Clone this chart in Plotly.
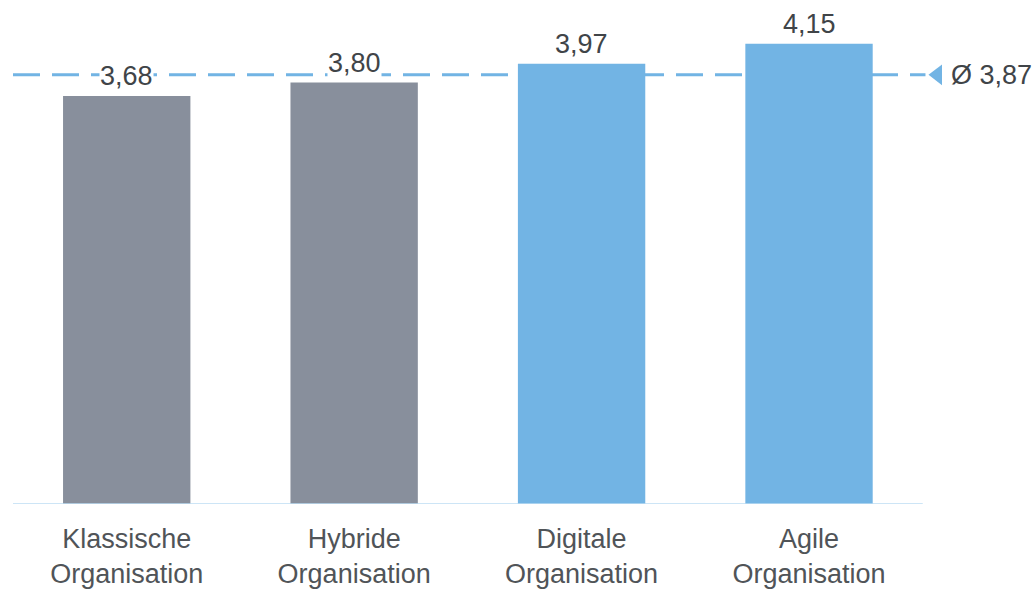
import plotly.graph_objects as go

categories = ["Klassische<br>Organisation", "Hybride<br>Organisation",
              "Digitale<br>Organisation", "Agile<br>Organisation"]
values = [3.68, 3.80, 3.97, 4.15]
value_labels = ["3,68", "3,80", "3,97", "4,15"]
average = 3.87
average_label = "Ø 3,87"

GRAY = "#888f9c"
BLUE = "#72b4e4"
TEXT = "#404448"
FONT = "Liberation Sans, Arial, sans-serif"

colors = [GRAY, GRAY, BLUE, BLUE]
xs = list(range(len(categories)))
x_last = xs[-1] + 0.5

fig = go.Figure()
fig.add_trace(go.Bar(x=xs, y=values, marker=dict(color=colors, line=dict(width=0)),
                     width=0.56, hoverinfo="skip", showlegend=False))

# average marker
fig.add_trace(go.Scatter(x=[x_last + 0.065], y=[average], mode="markers",
                         marker=dict(symbol="triangle-left", size=18, color=BLUE,
                                     line=dict(width=0)),
                         cliponaxis=False, showlegend=False, hoverinfo="skip"))
fig.add_annotation(x=x_last + 0.118, y=average, text=average_label, showarrow=False,
                   xanchor="left", yanchor="middle", borderpad=0,
                   font=dict(size=27, color=TEXT, family=FONT))

fig.add_shape(type="line", xref="x", yref="y", x0=-0.5, x1=x_last + 0.012,
              y0=average, y1=average,
              line=dict(color=BLUE, width=3, dash="27px,12px"), layer="below")

# baseline
fig.add_shape(type="line", xref="x", yref="y", x0=-0.5, x1=x_last, y0=0, y1=0,
              line=dict(color="#bcdcf3", width=1.5), layer="above")

for x, v, lab in zip(xs, values, value_labels):
    fig.add_annotation(x=x, y=v, text=lab, showarrow=False, yanchor="bottom",
                       yshift=4, bgcolor="white", borderpad=0,
                       font=dict(size=27, color=TEXT, family=FONT))

fig.update_layout(
    width=1036, height=590,
    margin=dict(l=13, r=0, t=5, b=86),
    paper_bgcolor="white", plot_bgcolor="white",
    font=dict(family=FONT, size=27, color=TEXT),
    xaxis=dict(range=[-0.5, 3.998], tickvals=xs, ticktext=categories,
               showgrid=False, zeroline=False, showline=False, ticks="",
               ticklabelstandoff=16,
               tickfont=dict(size=27, color="#505458", family=FONT)),
    yaxis=dict(range=[0, 4.5], visible=False, showgrid=False, zeroline=False),
)

fig.write_html("out.html")
